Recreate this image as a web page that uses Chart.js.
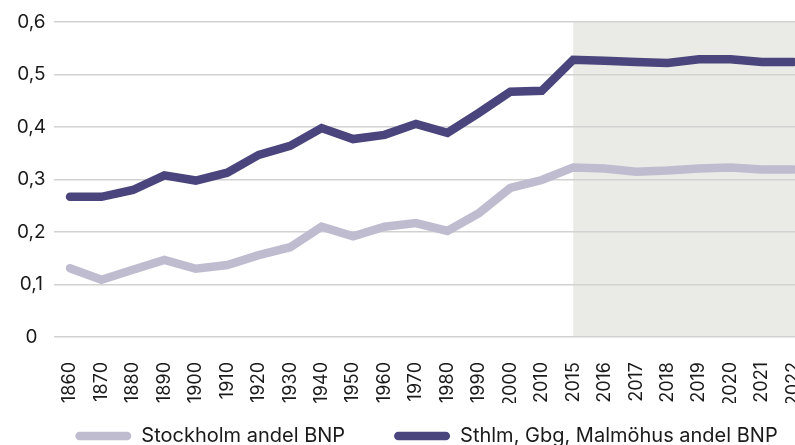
<!DOCTYPE html>
<html>
<head>
<meta charset="utf-8">
<script src="https://cdn.jsdelivr.net/npm/chart.js@4"></script>
<style>
  html, body { margin: 0; padding: 0; background: #fff; overflow: hidden; }
  #wrap { width: 853px; height: 482px; }
</style>
</head>
<body>
<div id="wrap"><canvas id="chart" width="853" height="482"></canvas></div>
<script>
// kategorier (år)
const years = [
  '1860', '1870', '1880', '1890', '1900', '1910', '1920', '1930',
  '1940', '1950', '1960', '1970', '1980', '1990', '2000', '2010',
  '2015', '2016', '2017', '2018', '2019', '2020', '2021', '2022',
];

// Stockholm andel BNP
const stockholm = [
  0.131, 0.109, 0.128, 0.147, 0.130, 0.137, 0.156, 0.171,
  0.210, 0.192, 0.210, 0.217, 0.202, 0.236, 0.284, 0.299,
  0.323, 0.321, 0.315, 0.317, 0.321, 0.323, 0.319, 0.319,
];

// Sthlm, Gbg, Malmöhus andel BNP
const storstad = [
  0.267, 0.267, 0.280, 0.308, 0.298, 0.313, 0.347, 0.364,
  0.398, 0.377, 0.385, 0.406, 0.389, 0.427, 0.467, 0.469,
  0.528, 0.526, 0.524, 0.522, 0.529, 0.529, 0.524, 0.524,
];

const yTickValues = [0, 0.1, 0.2, 0.3, 0.4, 0.5, 0.6];
const yTickLabels = ['0', '0,1', '0,2', '0,3', '0,4', '0,5', '0,6'];

// skuggat område från och med detta år
const shadeFromYear = '2015';

const FONT = 'Inter, "Liberation Sans", sans-serif';
const TEXT = '#1a1a1a';

/**
 * Bakgrundsskuggning för de senaste åren
 */
const shadePlugin = {
  id: 'shade',
  beforeDraw(chart) {
    const { ctx, chartArea, scales } = chart;
    const left = scales.x.getPixelForValue(years.indexOf(shadeFromYear));
    ctx.save();
    ctx.fillStyle = '#eaebe7';
    ctx.fillRect(left, chartArea.top, chartArea.right - left, chartArea.bottom - chartArea.top);
    ctx.restore();
  },
};

/**
 * Flytta upp legenden lite (labels.padding gäller både x och y)
 */
const legendLift = {
  id: 'legendLift',
  afterLayout(chart) {
    const lg = chart.legend;
    if (!lg) return;
    lg.top -= 26;
    lg.bottom -= 26;
  },
};

const toPoints = arr => arr.map((v, i) => ({ x: i, y: v }));

new Chart(document.getElementById('chart'), {
  type: 'line',
  data: {
    datasets: [
      {
        label: 'Stockholm andel BNP',
        data: toPoints(stockholm),
        borderColor: '#bfbcd0',
        backgroundColor: '#bfbcd0',
        borderWidth: 8.5,
        borderCapStyle: 'round',
        pointRadius: 0,
        fill: false,
      },
      {
        label: 'Sthlm, Gbg, Malmöhus andel BNP',
        data: toPoints(storstad),
        borderColor: '#4a457d',
        backgroundColor: '#4a457d',
        borderWidth: 8.5,
        borderCapStyle: 'round',
        pointRadius: 0,
        fill: false,
      },
    ],
  },
  options: {
    responsive: false,
    animation: false,
    devicePixelRatio: 1,
    layout: { padding: { top: 22, left: 0, right: 0, bottom: 0 } },
    scales: {
      x: {
        type: 'linear',
        min: -0.509,
        max: 24.896,
        afterBuildTicks: s => { s.ticks = years.map((_, i) => ({ value: i })); },
        afterFit: s => { s.height = 66; },
        grid: { display: false },
        border: { display: false },
        ticks: {
          autoSkip: false,
          minRotation: 90,
          maxRotation: 90,
          padding: 17,
          color: TEXT,
          font: { family: FONT, size: 18 },
          callback: (v, i) => years[i],
        },
      },
      y: {
        min: 0,
        max: 0.6,
        afterBuildTicks: s => { s.ticks = yTickValues.map(v => ({ value: v })); },
        afterFit: s => { s.width = 54; },
        grid: { color: '#d2d2d2', lineWidth: 1.5, drawTicks: false },
        border: { display: false },
        ticks: {
          padding: 8,
          crossAlign: 'center',
          color: TEXT,
          font: { family: FONT, size: 19 },
          callback: (v, i) => yTickLabels[i],
        },
      },
    },
    plugins: {
      tooltip: { enabled: false },
      legend: {
        position: 'bottom',
        labels: {
          boxWidth: 56,
          boxHeight: 8.5,
          padding: 49,
          useBorderRadius: true,
          borderRadius: 4.25,
          color: TEXT,
          font: { family: FONT, size: 20 },
          generateLabels: chart => chart.data.datasets.map((ds, i) => ({
            text: ds.label,
            fillStyle: ds.borderColor,
            strokeStyle: ds.borderColor,
            lineWidth: 0,
            borderRadius: 4.25,
            fontColor: TEXT,
            hidden: false,
            datasetIndex: i,
          })),
        },
      },
    },
  },
  plugins: [shadePlugin, legendLift],
});
</script>
</body>
</html>
